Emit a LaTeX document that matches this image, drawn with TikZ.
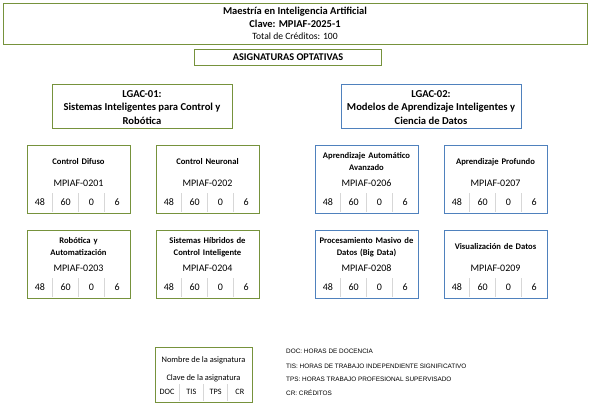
\documentclass[tikz,border=0pt]{standalone}
\usepackage{fontspec}
\usepackage{xcolor}
\setmainfont{Carlito}
\newfontfamily\legendfont{Liberation Sans}
\definecolor{greenline}{RGB}{118,146,60}
\definecolor{blueline}{RGB}{79,129,189}
\definecolor{sepgray}{RGB}{215,215,215}

\begin{document}
\begin{tikzpicture}[x=1pt, y=-1pt,
    greenbox/.style={draw=greenline, line width=0.9pt, fill=white},
    bluebox/.style={draw=blueline, line width=0.9pt, fill=white},
    sepline/.style={draw=sepgray, line width=0.7pt},
    ctitle/.style={text width=101pt, align=center, font=\bfseries\fontsize{8.6}{12}\selectfont, inner sep=0pt},
    ccode/.style={font=\fontsize{10}{11}\selectfont, inner sep=0pt},
    cnum/.style={font=\fontsize{10}{11}\selectfont, inner sep=0pt},
    legtext/.style={anchor=west, font=\legendfont\fontsize{6.4}{7}\selectfont, inner sep=0pt}
]

\useasboundingbox (0,0) rectangle (589,405);

% 1. HEADER
\draw[greenbox] (3,3) rectangle (587,44);
\node[font=\bfseries\fontsize{10.5}{11}\selectfont, inner sep=0pt] (prog) at (295,12) {Maestría en Inteligencia Artificial};
\node[font=\bfseries\fontsize{10.5}{11}\selectfont, inner sep=0pt] (clave) at (295,24) {Clave: MPIAF-2025-1};
\node[font=\fontsize{9.6}{11}\selectfont, inner sep=0pt] (total) at (295,36) {Total de Créditos: 100};

\draw[greenbox] (194,49.5) rectangle (381,65);
\node[font=\bfseries\fontsize{10.3}{11}\selectfont, inner sep=0pt] (optativas) at (288,57.5) {ASIGNATURAS OPTATIVAS};

% 2. LGAC BOXES
\draw[greenbox] (52,84) rectangle (232,128);
\node[align=center, font=\bfseries\fontsize{10.6}{13.8}\selectfont, inner sep=0pt] (lgac1) at (142,107.5)
    {LGAC-01:\\Sistemas Inteligentes para Control y\\Robótica};

\draw[bluebox] (341,84) rectangle (521,128);
\node[align=center, font=\bfseries\fontsize{10.6}{13.8}\selectfont, inner sep=0pt] (lgac2) at (431,107.5)
    {LGAC-02:\\Modelos de Aprendizaje Inteligentes y\\Ciencia de Datos};

% 3. COURSE BOXES (left x, top y, name, key, style)
\foreach \cx/\cy/\cname/\ckey/\cbox [count=\i] in {
    27/145/{Control Difuso}/0201/greenbox,
    156/145/{Control Neuronal}/0202/greenbox,
    27/230/{Robótica y\\Automatización}/0203/greenbox,
    156/230/{Sistemas Híbridos de\\Control Inteligente}/0204/greenbox,
    315/145/{Aprendizaje Automático\\Avanzado}/0206/bluebox,
    444/145/{Aprendizaje Profundo}/0207/bluebox,
    315/230/{Procesamiento Masivo de\\Datos (Big Data)}/0208/bluebox,
    444/230/{Visualización de Datos}/0209/bluebox}{
  \draw[\cbox] (\cx,\cy) rectangle ++(103,68);
  \node[ctitle] (name\i) at (\cx+51.5,\cy+17) {\cname};
  \node[ccode] (key\i) at (\cx+51.5,\cy+38.5) {MPIAF-\ckey};
  \foreach \k in {1,2,3}
    \draw[sepline] (\cx+25.75*\k,\cy+48) -- (\cx+25.75*\k,\cy+67);
  \node[cnum] (doc\i) at (\cx+12.9,\cy+57) {48};
  \node[cnum] (tis\i) at (\cx+38.6,\cy+57) {60};
  \node[cnum] (tps\i) at (\cx+64.4,\cy+57) {0};
  \node[cnum] (cr\i) at (\cx+90.1,\cy+57) {6};
}

% 4. LEGEND
\draw[greenbox] (155,347) rectangle (252,402);
\node[font=\fontsize{8.4}{10}\selectfont, inner sep=0pt] (legname) at (203.5,360.5) {Nombre de la asignatura};
\node[font=\fontsize{8.4}{10}\selectfont, inner sep=0pt] (legkey) at (203.5,378.5) {Clave de la asignatura};
\foreach \k in {1,2,3}
  \draw[sepline] (155+24.25*\k,384) -- (155+24.25*\k,401);
\node[font=\fontsize{8.2}{10}\selectfont, inner sep=0pt] (legdoc) at (167.1,392) {DOC};
\node[font=\fontsize{8.2}{10}\selectfont, inner sep=0pt] (legtis) at (191.4,392) {TIS};
\node[font=\fontsize{8.2}{10}\selectfont, inner sep=0pt] (legtps) at (215.6,392) {TPS};
\node[font=\fontsize{8.2}{10}\selectfont, inner sep=0pt] (legcr) at (239.9,392) {CR};

\node[legtext] (defdoc) at (286,351.5) {DOC: HORAS DE DOCENCIA};
\node[legtext] (deftis) at (286,366) {TIS: HORAS DE TRABAJO INDEPENDIENTE SIGNIFICATIVO};
\node[legtext] (deftps) at (286,379.5) {TPS: HORAS TRABAJO PROFESIONAL SUPERVISADO};
\node[legtext] (defcr) at (286,393) {CR: CRÉDITOS};

\end{tikzpicture}
\end{document}
